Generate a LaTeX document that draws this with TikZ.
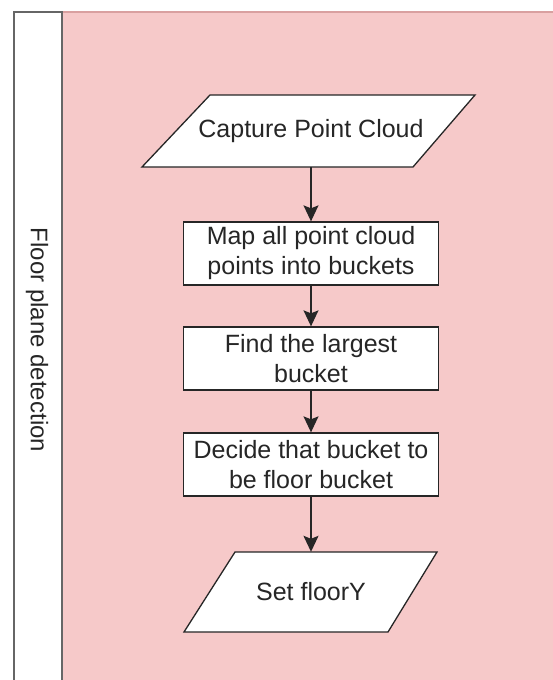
\documentclass[tikz,border=0pt]{standalone}
\usepackage{fontspec}
\setmainfont{Liberation Sans}
\usetikzlibrary{arrows.meta}
\definecolor{lanefill}{HTML}{F6C9C9}
\definecolor{laneedge}{HTML}{D9A0A0}
\definecolor{ink}{HTML}{262626}
\begin{document}
\begin{tikzpicture}[x=1pt,y=-1pt,
  txt/.style={font=\fontsize{25}{30}\selectfont, text=ink, align=center, inner sep=0pt},
  outline/.style={draw=ink, line width=1.3pt, fill=white},
  stepbox/.style={outline, txt, minimum width=255pt, minimum height=63pt},
  iobox/.style={txt, minimum width=200pt},
  flow/.style={draw=ink, line width=1.4pt, -{Stealth[length=16pt,width=15pt,inset=3pt]}}]
  \useasboundingbox (0,0) rectangle (552,680);

  % swimlane body and header
  \fill[lanefill] (62,12) rectangle (560,690);
  \draw[laneedge, line width=1.2pt] (62,12) -- (560,12);
  \draw[fill=white, draw=black!60, line width=1.5pt] (14,692) -- (14,12) -- (62,12) -- (62,692);
  \node[txt, font=\fontsize{24}{29}\selectfont, rotate=-90] (lane) at (37,340) {Floor plane detection};

  % input parallelogram
  \draw[outline] (210,95) -- (475,95) -- (413,167) -- (142,167) -- cycle;
  \node[iobox, minimum height=72pt] (capture) at (311,131) {Capture Point Cloud};

  % process steps
  \node[stepbox] (map) at (311,253.5) {Map all point cloud\\points into buckets};
  \node[stepbox] (largest) at (311,358.5) {Find the largest\\bucket};
  \node[stepbox] (decide) at (311,464.5) {Decide that bucket to\\be floor bucket};

  % output parallelogram
  \draw[outline] (235,552) -- (437,552) -- (388,632) -- (184,632) -- cycle;
  \node[iobox, minimum height=80pt] (setfloor) at (311,592) {Set floorY};

  % connectors
  \draw[flow] (capture.south) -- (map.north);
  \draw[flow] (map.south) -- (largest.north);
  \draw[flow] (largest.south) -- (decide.north);
  \draw[flow] (decide.south) -- (setfloor.north);
\end{tikzpicture}
\end{document}
